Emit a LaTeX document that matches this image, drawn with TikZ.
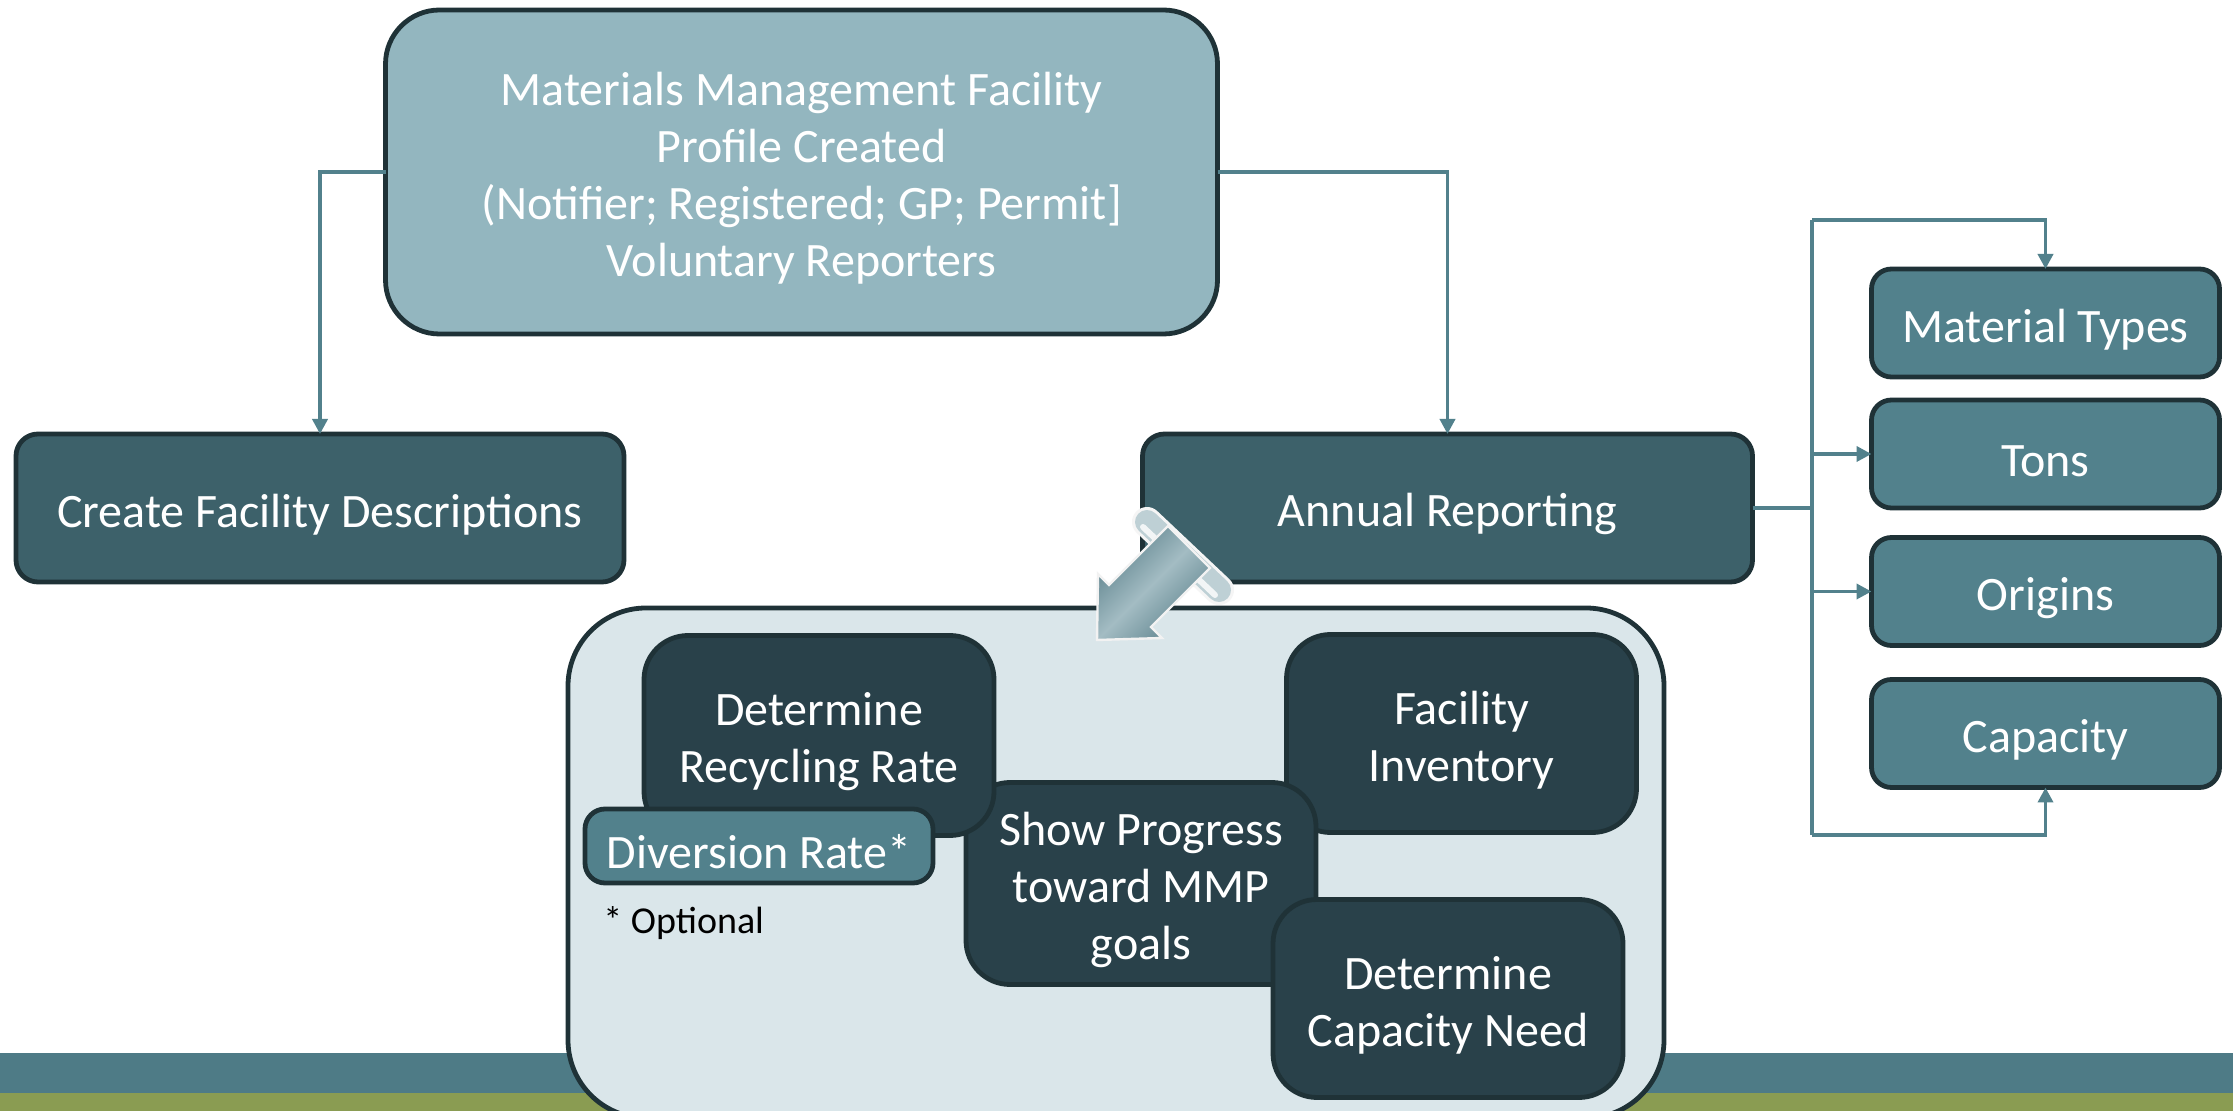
\documentclass[tikz,border=0pt]{standalone}
\usepackage{fontspec}
\setmainfont{Carlito}
\usetikzlibrary{arrows.meta}
\definecolor{topfill}{HTML}{93B6BF}
\definecolor{midfill}{HTML}{3D616A}
\definecolor{darkfill}{HTML}{29414A}
\definecolor{tealfill}{HTML}{52818C}
\definecolor{edgecol}{HTML}{1F3237}
\definecolor{contfill}{HTML}{DAE6EA}
\definecolor{bandteal}{HTML}{4E7B86}
\definecolor{bandolive}{HTML}{8A9C52}
\definecolor{conncol}{HTML}{52818C}
\definecolor{arrowlight}{HTML}{A3BCC3}
\definecolor{arrowdark}{HTML}{5D828C}
\newcommand{\lowstrut}{\rule{0pt}{23pt}}
\begin{document}
\begin{tikzpicture}[x=0.5pt,y=-0.5pt,
  box/.style={draw=edgecol, line width=2.4pt, text=white, align=center, inner sep=0pt, outer sep=0pt,
    font=\fontsize{24}{28.5}\selectfont},
  topbox/.style={box, fill=topfill, rounded corners=27pt},
  midbox/.style={box, fill=midfill, rounded corners=11pt},
  listbox/.style={box, fill=tealfill, rounded corners=10pt},
  innerbox/.style={box, fill=darkfill, rounded corners=22pt},
  conn/.style={draw=conncol, line width=1.8pt, -{Triangle[length=7.5pt,width=7.5pt]}},
  plainconn/.style={draw=conncol, line width=1.8pt}]
\useasboundingbox (0,0) rectangle (2233,1111);
\clip (0,0) rectangle (2233,1111);
\fill[white] (0,0) rectangle (2233,1111);
% bottom bands
\fill[bandteal] (0,1053) rectangle (2233,1093);
\fill[bandolive] (0,1093) rectangle (2233,1111);
% container
\node[draw=edgecol, line width=2.4pt, fill=contfill, rounded corners=39pt, minimum width=548pt, minimum height=255pt, inner sep=0pt] (cont) at (1116,863) {};
% top level boxes
\node[topbox, minimum width=416pt, minimum height=162pt] (top) at (801.5,172)
  {\lowstrut Materials Management Facility\\Profile Created\\(Notifier; Registered; GP; Permit]\\Voluntary Reporters};
\node[midbox, minimum width=304pt, minimum height=74pt] (create) at (320,508) {\lowstrut Create Facility Descriptions};
\node[midbox, minimum width=305pt, minimum height=74pt] (annual) at (1447.5,508) {\lowstrut Annual Reporting};
% list boxes
\node[listbox, minimum width=174pt, minimum height=54pt] (material) at (2045.5,323) {\lowstrut Material Types};
\node[listbox, minimum width=174pt, minimum height=54pt] (tons) at (2045.5,454) {\lowstrut Tons};
\node[listbox, minimum width=174pt, minimum height=54pt] (origins) at (2045.5,591.5) {\lowstrut Origins};
\node[listbox, minimum width=174pt, minimum height=54pt] (capacity) at (2045.5,733.5) {\lowstrut Capacity};
% inner boxes
\node[innerbox, minimum width=175pt, minimum height=99pt] (inventory) at (1461.5,733.5) {\lowstrut Facility\\Inventory};
\node[innerbox, minimum width=175pt, minimum height=101pt] (progress) at (1141,883.5) {\lowstrut Show Progress\\toward MMP\\goals};
\node[innerbox, minimum width=175pt, minimum height=100pt] (recycling) at (819,735.5) {\lowstrut Determine\\Recycling Rate};
\node[listbox, minimum width=174pt, minimum height=37pt] (diversion) at (759,846) {\lowstrut Diversion Rate*};
\node[innerbox, minimum width=175pt, minimum height=99pt] (capneed) at (1448,998.5) {\lowstrut Determine\\Capacity Need};
\node[anchor=west, inner sep=0pt, font=\fontsize{19}{22}\selectfont] (optional) at (603,923) {* Optional};
% connectors
\draw[conn] (top.west) -| (create.north);
\draw[conn] (top.east) -| (annual.north);
\coordinate (bmid) at (1812,508);
\coordinate (btop) at (1812,220);
\coordinate (bbot) at (1812,835);
\coordinate (btons) at (1812,454);
\coordinate (borig) at (1812,591.5);
\draw[plainconn] (annual.east) -- (bmid);
\draw[plainconn] (btop) -- (bbot);
\draw[conn] (btop) -| (material.north);
\draw[conn] (bbot) -| (capacity.south);
\draw[conn] (btons) -- (tons.west);
\draw[conn] (borig) -- (origins.west);
% curled 3D arrow
\draw[white!92!gray, line width=15pt, line cap=round] (1147,522) -- (1219,590);
\draw[arrowlight!70!white, line width=12pt, line cap=round] (1147,522) -- (1219,590);
\draw[white, line width=3pt, line cap=round, opacity=0.8] (1143,527) -- (1215,595);
\filldraw[draw=white!90!gray, line width=1.2pt, left color=arrowdark, right color=arrowdark, middle color=arrowlight, shading angle=45]
  (1097,640) -- (1098,574) -- (1109,585) -- (1168,526) -- (1210,568) -- (1151,627) -- (1162,638) -- cycle;
\end{tikzpicture}
\end{document}
